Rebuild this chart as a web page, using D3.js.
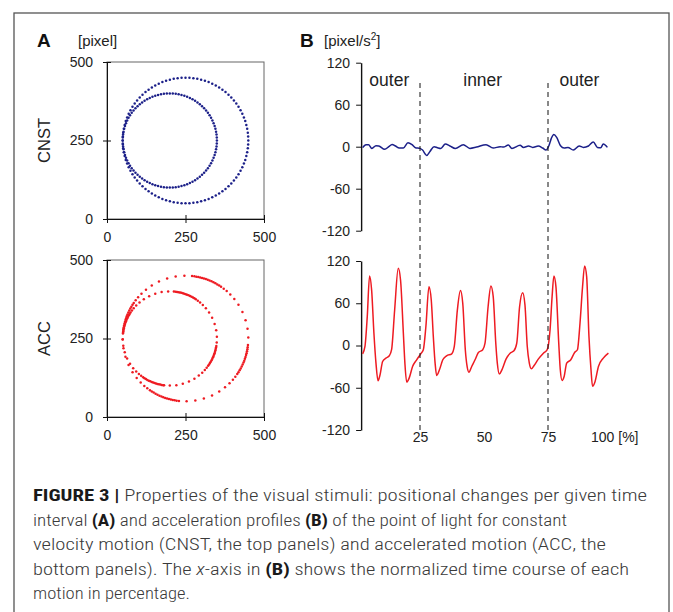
<!DOCTYPE html>
<html>
<head>
<meta charset="utf-8">
<script src="https://cdn.jsdelivr.net/npm/d3@7"></script>
<style>
  body { margin: 0; background: #fff; }
  svg { display: block; font-family: "Liberation Sans", Arial, sans-serif; }
  .tick text { font-size: 14px; fill: #222; font-family: "Liberation Sans", Arial, sans-serif; }
  .tick line, .domain { stroke: #111; }
</style>
</head>
<body>
<svg id="fig" width="673" height="612"></svg>
<script>
// ---- panel A: dot angles (deg, ccw from +x) along the two circular paths
var cnstAngles = [0,3.6,7.2,10.8,14.4,18,21.6,25.2,28.8,32.4,36,39.6,43.2,46.8,50.4,54,57.6,61.2,64.8,68.4,
  72,75.6,79.2,82.8,86.4,90,93.6,97.2,100.8,104.4,108,111.6,115.2,118.8,122.4,126,129.6,133.2,136.8,140.4,
  144,147.6,151.2,154.8,158.4,162,165.6,169.2,172.8,176.4,180,183.6,187.2,190.8,194.4,198,201.6,205.2,208.8,212.4,
  216,219.6,223.2,226.8,230.4,234,237.6,241.2,244.8,248.4,252,255.6,259.2,262.8,266.4,270,273.6,277.2,280.8,284.4,
  288,291.6,295.2,298.8,302.4,306,309.6,313.2,316.8,320.4,324,327.6,331.2,334.8,338.4,342,345.6,349.2,352.8,356.4];

var accOuterAngles = [84,91,99,107,115,122.5,129,134.5,139,142.5,145.5,147.5,149.5,151.5,153.5,155.5,157.5,159.3,161.1,162.9,164.7,166.5,168.3,170.1,171.9,
  174,181,189,197,205,212.5,219,224.5,229,232.5,235.5,237.5,239.5,241.5,243.5,245.5,247.5,249.3,251.1,252.9,254.7,256.5,258.3,260.1,261.9,
  264,271,279,287,295,302.5,309,314.5,319,322.5,325.5,327.5,329.5,331.5,333.5,335.5,337.5,339.3,341.1,342.9,344.7,346.5,348.3,350.1,351.9,
  354,1,9,17,25,32.5,39,44.5,49,52.5,55.5,57.5,59.5,61.5,63.5,65.5,67.5,69.3,71.1,72.9,74.7,76.5,78.3,80.1,81.9];

var accInnerAngles = [85,92,100,108,116,123.5,130,135.5,140,143.5,146.5,148.5,150.5,152.5,154.5,156.5,158.5,160.3,162.1,163.9,165.7,167.5,169.3,171.1,172.9,
  174,181,189,197,205,212.5,219,224.5,229,232.5,235.5,237.5,239.5,241.5,243.5,245.5,247.5,249.3,251.1,252.9,254.7,256.5,258.3,260.1,261.9,
  263,270,278,286,294,301.5,308,313.5,318,321.5,324.5,326.5,328.5,330.5,332.5,334.5,336.5,338.3,340.1,341.9,343.7,345.5,347.3,349.1,350.9,
  355,2,10,18,26,33.5,40,45.5,50,53.5,56.5,58.5,60.5,62.5,64.5,66.5,68.5,70.3,72.1,73.9,75.7,77.5,79.3,81.1,82.9];

var outerPath = [250, 250, 200];   // centre x, centre y, radius [pixel]
var innerPath = [200, 250, 150];
var posTicks = [0, 250, 500];

// ---- panel B: acceleration [% of motion, pixel/s^2]
var cnstAcc = [[2.6,-1.4],[3.9,2.9],[4.9,2.9],[6.2,-2.4],[7.8,1.4],[8.9,1],[11.2,-3.8],[12.8,0],[14.1,3.3],[15.4,1],
  [16.9,-1.9],[18.5,-1.9],[20.3,5.7],[21.9,2.9],[23.2,-1.4],[25,-2.4],[26,-4.8],[27.6,-12.4],[28.9,-6.7],[30.5,0],
  [31.8,-1.4],[33.1,-2.4],[34.9,3.8],[36.7,1],[38.8,-2.4],[41.9,2.9],[44.5,-2.4],[47.1,-0.5],[50.8,2.9],[53.6,-1.9],
  [56.3,0],[57.6,-0.5],[59.5,2.4],[60.9,-2.4],[64.1,1.9],[65.4,-1],[67.4,1],[69,-1],[71.2,1],[72.9,-1.9],
  [74.2,-4.8],[75.3,1],[76.3,11.9],[77.3,17.6],[78.4,13.3],[79.9,1.4],[81.3,-1.9],[82.8,-1],[84.9,-4.8],[87.2,1],
  [88.8,-1],[90.8,1],[92.7,6.7],[94.3,-1],[95.6,-1.4],[96.6,3.8],[98.2,-1]];

var accAcc = [[2.6,-11.8],[3.5,-1.4],[4.4,41],[5.3,98.7],[6.1,79],[7.0,17.5],[7.8,-25],[8.6,-50],[9.4,-41.6],[10.4,-22.7],
  [11.7,-18],[13.0,-14.6],[13.9,-6],[15.1,50.5],[16.5,109.6],[17.4,93],[18.5,17.5],[19.1,-25],[19.8,-52],[20.8,-46],
  [22.1,-29.8],[23.7,-20.3],[25.3,-11.8],[26.3,-6],[27.3,27],[28.5,83.6],[29.4,64.7],[30.2,12.8],[30.9,-25],[31.5,-42.5],
  [32.6,-34.5],[33.9,-20.3],[35.4,-14.6],[37.4,-11.8],[38.4,-1.4],[39.6,50.5],[40.8,78],[41.7,60],[42.7,-6],[43.4,-29.8],
  [44.1,-38],[45.2,-29.8],[46.5,-20.3],[47.8,-9.9],[49.5,-6],[50.4,3.3],[51.6,55],[52.7,84.6],[53.6,69.4],[54.6,3.3],
  [55.2,-25],[56.0,-40.6],[57.0,-34.5],[58.6,-19.4],[60.2,-10.9],[61.7,-7.6],[62.8,3.3],[63.9,55],[65.1,75],[66.0,57.6],
  [66.9,-1.4],[67.7,-25],[68.5,-33],[69.5,-28.8],[71.2,-19.4],[73.2,-10.9],[74.7,-6],[75.8,22],[76.6,69.4],[77.3,98.7],
  [78.1,83.6],[79.2,3.3],[79.8,-34.5],[80.5,-49.6],[81.3,-44],[82.3,-25],[83.9,-20.3],[85.4,-9.9],[86.5,-6],[87.5,31.6],
  [88.5,83.6],[89.3,113],[90.1,97.8],[91.0,12.8],[91.8,-34.5],[92.4,-58],[93.4,-51],[94.7,-29.8],[96.6,-18],[98.6,-10.9]];

var accTicks = [-120, -60, 0, 60, 120];
var timeTicks = [25, 50, 75];
var phaseBounds = [25, 75];
var phaseLabels = [["outer", 13], ["inner", 49.5], ["outer", 87.3]];

var captionLines = [
  [["FIGURE 3 | ", "b"], ["Properties of the visual stimuli: positional changes per given time", ""]],
  [["interval ", ""], ["(A)", "b"], [" and acceleration profiles ", ""], ["(B)", "b"], [" of the point of light for constant", ""]],
  [["velocity motion (CNST, the top panels) and accelerated motion (ACC, the", ""]],
  [["bottom panels). The ", ""], ["x", "i"], ["-axis in ", ""], ["(B)", "b"], [" shows the normalized time course of each", ""]],
  [["motion in percentage.", ""]]
];
var captionWidths = [614, 534, 573, 596, 157];

var blue = '#1c2089', red = '#ee1b22';
var plain = function (d) { return String(d); };   // hyphen minus, like the original
var svg = d3.select('#fig');

// outer figure frame
svg.append('rect')
  .attr('x', 14).attr('y', 13).attr('width', 655).attr('height', 640)
  .attr('fill', 'none').attr('stroke', '#555').attr('stroke-width', 1.3);

// ---------- panel A
var xA = d3.scaleLinear().domain([0, 500]).range([107, 264]);

function orbitPanel(top, bottom, outerAngles, innerAngles, color, name) {
  var y = d3.scaleLinear().domain([0, 500]).range([bottom, top]);
  var g = svg.append('g');

  g.append('rect')
    .attr('x', xA(0)).attr('y', y(500))
    .attr('width', xA(500) - xA(0)).attr('height', y(0) - y(500))
    .attr('fill', 'none').attr('stroke', '#666').attr('stroke-width', 1);

  // ticks cross the axis line
  g.append('g').attr('transform', 'translate(0,' + y(0) + ')')
    .call(d3.axisBottom(xA).tickValues(posTicks).tickFormat(plain).tickSize(4).tickSizeOuter(0).tickPadding(9))
    .call(function (s) { s.selectAll('.tick line').attr('y1', -4); });
  g.append('g').attr('transform', 'translate(' + xA(0) + ',0)')
    .call(d3.axisLeft(y).tickValues(posTicks).tickFormat(plain).tickSize(4).tickSizeOuter(0).tickPadding(10))
    .call(function (s) { s.selectAll('.tick line').attr('x1', 4); });

  function dots(angles, path) {
    g.append('g').selectAll('circle')
      .data(angles)
      .enter().append('circle')
      .attr('cx', function (a) { return xA(path[0] + path[2] * Math.cos(a * Math.PI / 180)); })
      .attr('cy', function (a) { return y(path[1] + path[2] * Math.sin(a * Math.PI / 180)); })
      .attr('r', 1.25)
      .attr('fill', color);
  }
  dots(outerAngles, outerPath);
  dots(innerAngles, innerPath);

  g.append('text')
    .attr('transform', 'translate(44,' + y(250) + ') rotate(-90)')
    .attr('text-anchor', 'middle').attr('dy', '0.35em')
    .attr('font-size', 16.5).attr('fill', '#222')
    .text(name);
}

orbitPanel(62, 219, cnstAngles, cnstAngles, blue, 'CNST');
orbitPanel(260, 417, accOuterAngles, accInnerAngles, red, 'ACC');

// ---------- panel B
var xB = d3.scaleLinear().domain([0, 100]).range([356, 612]);
var axisAt = 2;

function accPanel(top, bottom, series, color) {
  var y = d3.scaleLinear().domain([-120, 120]).range([bottom, top]);
  var g = svg.append('g');
  g.append('g').attr('transform', 'translate(' + xB(axisAt) + ',0)')
    .call(d3.axisLeft(y).tickValues(accTicks).tickFormat(plain).tickSize(5).tickSizeOuter(0).tickPadding(6))
    .call(function (s) { s.select('.domain').attr('stroke-width', 1.4); });

  var line = d3.line()
    .x(function (d) { return xB(d[0]); })
    .y(function (d) { return y(d[1]); })
    .curve(d3.curveMonotoneX);
  g.append('path').datum(series)
    .attr('d', line).attr('fill', 'none')
    .attr('stroke', color).attr('stroke-width', 1.5);
  return y;
}

var yTop = accPanel(62.7, 230.7, cnstAcc, blue);
var yBot = accPanel(261, 430, accAcc, red);

// phase boundaries
svg.append('g').selectAll('line')
  .data(phaseBounds)
  .enter().append('line')
  .attr('x1', function (d) { return xB(d); })
  .attr('x2', function (d) { return xB(d); })
  .attr('y1', yTop(91)).attr('y2', yBot(-120) + 2)
  .attr('stroke', '#111').attr('stroke-width', 1)
  .attr('stroke-dasharray', '5,4');

svg.append('g').selectAll('text')
  .data(phaseLabels)
  .enter().append('text')
  .attr('x', function (d) { return xB(d[1]); })
  .attr('y', 86)
  .attr('text-anchor', 'middle')
  .attr('font-size', 17.5).attr('fill', '#222')
  .text(function (d) { return d[0]; });

// time axis labels
var tAxis = svg.append('g').attr('transform', 'translate(0,' + yBot(-120) + ')')
  .call(d3.axisBottom(xB).tickValues(timeTicks).tickFormat(plain).tickSize(0).tickPadding(2));
tAxis.select('.domain').remove();
svg.append('text')
  .attr('x', xB(100) - 21).attr('y', yBot(-120) + 2).attr('dy', '0.71em')
  .attr('font-size', 14).attr('fill', '#222')
  .text('100 [%]');

// panel titles
svg.append('text').attr('x', 37).attr('y', 47).attr('font-size', 19).attr('font-weight', 'bold').attr('fill', '#111').text('A');
svg.append('text').attr('x', 78).attr('y', 46).attr('font-size', 15).attr('fill', '#222').text('[pixel]');
svg.append('text').attr('x', 300).attr('y', 47).attr('font-size', 19).attr('font-weight', 'bold').attr('fill', '#111').text('B');
var unitB = svg.append('text').attr('x', 324).attr('y', 46).attr('font-size', 15).attr('fill', '#222');
unitB.append('tspan').text('[pixel/s');
unitB.append('tspan').attr('font-size', 10).attr('dy', -6).text('2');
unitB.append('tspan').attr('dy', 6).text(']');

// caption
var cap = svg.append('g')
  .attr('font-family', '"Liberation Sans Narrow", "Roboto Condensed", Roboto, sans-serif')
  .attr('font-size', 17).attr('font-weight', 300).attr('fill', '#3a3a3a');
captionLines.forEach(function (parts, i) {
  var t = cap.append('text')
    .attr('x', 33).attr('y', 501 + i * 24.6)
    .attr('textLength', captionWidths[i]).attr('lengthAdjust', 'spacingAndGlyphs')
    .style('white-space', 'pre');
  parts.forEach(function (p) {
    var s = t.append('tspan').text(p[0]);
    if (p[1] === 'b') s.attr('font-weight', 'bold').attr('fill', '#1a1a1a');
    if (p[1] === 'i') s.attr('font-style', 'italic');
  });
});
</script>
</body>
</html>
